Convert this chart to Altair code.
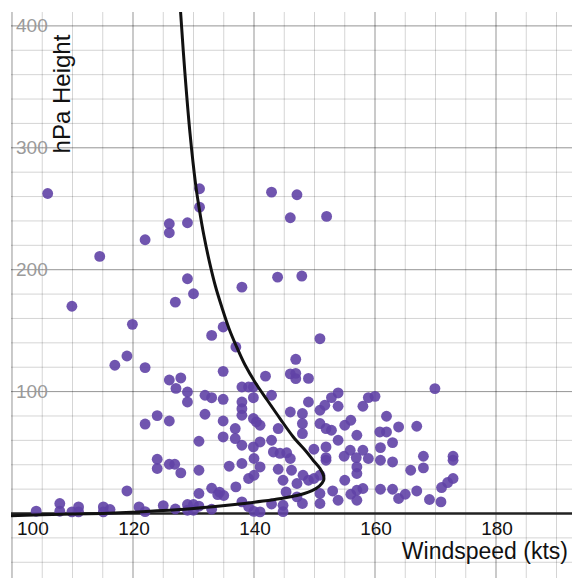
import altair as alt
import pandas as pd

# ---- scatter data (windspeed in kts, height in hPa) ----
KTS = [105.9, 131.0, 131.0, 142.9, 147.1, 146.0, 152.0, 126.0, 129.0, 126.0,
       122.0, 114.5, 129.0, 143.9, 147.9, 138.0, 130.0, 127.0, 109.9, 119.9,
       134.9, 133.0, 150.9, 137.0, 119.0, 146.9, 117.0, 122.0, 134.9, 126.0,
       127.9, 141.9, 146.0, 146.9, 146.9, 149.0, 127.1, 129.0, 129.0, 131.9,
       133.0, 134.9, 138.0, 139.1, 139.9, 138.0, 138.0, 139.9, 142.9, 138.0,
       139.9, 140.4, 141.0, 131.9, 134.9, 124.0, 122.0, 126.0, 136.9, 144.0,
       130.9, 134.9, 136.9, 138.0, 139.9, 141.0, 142.9, 143.2, 144.3, 145.4,
       124.0, 124.0, 126.0, 126.9, 127.9, 130.9, 135.9, 138.0, 140.0, 141.0,
       144.0, 139.1, 140.0, 144.8, 137.0, 119.0, 130.9, 133.0, 134.3, 135.0,
       134.0, 145.3, 146.0, 146.2,
       104.0, 107.9, 107.9, 109.9, 111.0, 111.0, 115.1, 116.2, 115.1, 121.0,
       122.0, 125.0, 127.0, 129.0, 130.0, 129.0, 130.0, 130.9, 133.0, 138.0,
       139.1, 140.0, 141.0, 142.9, 144.8, 144.8,
       169.9, 153.9, 152.8, 151.7, 150.9, 153.9, 149.0, 158.9, 160.0, 158.0,
       148.0, 148.0, 148.0, 146.0, 150.9, 151.9, 152.8, 155.0, 156.0, 153.9,
       157.0, 161.9, 160.8, 161.9, 163.9, 166.9, 162.9, 160.9, 149.9, 151.9,
       151.9, 151.9, 154.9, 155.9, 156.9, 158.0, 158.9, 157.0, 157.0, 160.9,
       162.9, 168.0, 168.0, 165.9, 172.9, 172.9, 172.9, 172.0, 171.0, 155.0,
       149.9, 150.9, 148.1, 149.0, 147.1, 147.1, 148.0, 150.9, 150.9, 153.0,
       153.9, 156.0, 157.0, 158.0, 157.0, 160.9, 162.9, 163.9, 165.0, 166.9,
       169.0, 170.9]
HPA = [262.5, 266.4, 251.3, 263.6, 261.5, 242.6, 243.7, 237.7, 238.5, 230.3,
       224.6, 210.9, 192.6, 193.9, 194.8, 185.7, 180.3, 173.4, 170.0, 155.2,
       153.0, 146.1, 143.4, 136.6, 129.2, 126.5, 121.6, 119.7, 116.6, 109.5,
       111.2, 112.7, 114.5, 115.0, 110.6, 110.8, 102.6, 99.7, 91.5, 97.0,
       95.0, 93.7, 103.8, 103.8, 103.8, 91.5, 86.0, 95.0, 97.0, 80.6,
       77.9, 75.1, 72.4, 81.4, 75.9, 80.3, 73.4, 75.9, 69.7, 69.7,
       59.3, 62.8, 61.5, 56.0, 54.6, 58.7, 60.1, 50.5, 49.4, 49.8,
       44.5, 36.9, 40.4, 40.4, 33.3, 35.5, 38.8, 41.0, 45.1, 38.2,
       36.3, 28.7, 31.4, 27.3, 21.8, 18.5, 16.4, 20.7, 17.5, 14.8,
       15.5, 17.7, 45.1, 35.5,
       1.9, 8.2, 1.9, 1.3, 5.4, 1.3, 5.4, 3.3, 1.3, 5.4,
       1.5, 6.5, 3.7, 7.4, 7.4, 2.7, 2.7, 6.0, 3.5, 9.5,
       5.7, 1.8, 1.3, 7.8, 6.8, 1.5,
       102.5, 98.9, 95.1, 88.8, 84.7, 88.0, 91.5, 95.1, 96.1, 88.0,
       82.0, 73.8, 65.6, 83.3, 73.8, 69.7, 68.3, 72.4, 76.5, 60.1,
       64.2, 79.8, 66.9, 66.9, 71.0, 71.6, 58.2, 54.1, 52.7, 54.6,
       45.9, 43.7, 47.0, 51.9, 45.9, 51.9, 45.1, 38.2, 32.8, 43.7,
       42.3, 47.0, 37.4, 35.5, 47.0, 43.7, 28.7, 25.4, 21.3, 27.3,
       28.7, 31.4, 31.4, 27.3, 24.6, 13.6, 8.2, 16.4, 8.2, 18.5,
       10.9, 15.8, 19.1, 20.5, 10.9, 19.9, 19.9, 12.3, 15.8, 18.5,
       11.5, 9.5]

# ---- fitted curve, traced in order ----
CURVE_KTS = [98.5, 105, 110, 115, 120, 125, 130, 134, 138, 141.5, 144.5, 146.5,
             148.2, 149.6, 150.8, 151.5, 151.5, 150.9, 149.8, 148.7, 146.5, 144.3,
             142.2, 140.2, 138.5, 137.1, 135.85, 134.7, 133.65, 132.7, 131.72, 130.95,
             130.35, 129.42, 128.57, 127.87, 127.55]
CURVE_HPA = [-2.0, -1.1, -0.5, 0.1, 1.1, 2.4, 4.2, 5.9, 8.0, 10.2, 12.4, 14.2,
             16.2, 18.8, 22.5, 27, 31, 37, 43.5, 50.5, 62.8, 77.9,
             92.9, 107.5, 122, 137, 152, 169, 186, 205, 228, 250,
             270, 312, 362, 411, 435]

# ---- axis ticks / grid ----
X_LABELS = [120, 140, 160, 180]
X_FIRST_LABEL = [100]
Y_LABELS = [100, 200, 300, 400]
X_GRID = [100, 105, 110, 115, 120, 125, 130, 135, 140, 145, 150, 155, 160,
          165, 170, 175, 180, 185, 190]
Y_GRID = [-40, -20, 20, 40, 60, 80, 100, 120, 140, 160, 180, 200, 220,
          240, 260, 280, 300, 320, 340, 360, 380, 400]

X_DOMAIN = [99.835, 192.56]
Y_DOMAIN = [-52.9, 411.4]
W, H = 561, 566
FONT = "Liberation Sans"

xs = alt.Scale(domain=X_DOMAIN, nice=False, zero=False)
ys = alt.Scale(domain=Y_DOMAIN, nice=False, zero=False)

# grid lines (Desmos-like: light minor, darker major)
vgrid = alt.Chart(pd.DataFrame({"g": X_GRID})).mark_rule(strokeWidth=1, color="black").encode(
    x=alt.X("g:Q", scale=xs, axis=None),
    strokeOpacity=alt.condition("datum.g % 20 === 0", alt.value(0.42), alt.value(0.17)),
)
hgrid = alt.Chart(pd.DataFrame({"g": Y_GRID})).mark_rule(strokeWidth=1, color="black").encode(
    y=alt.Y("g:Q", scale=ys, axis=None),
    strokeOpacity=alt.condition("datum.g % 100 === 0", alt.value(0.42), alt.value(0.17)),
)

pts = pd.DataFrame({"kts": KTS, "hpa": HPA})
curve = pd.DataFrame({"kts": CURVE_KTS, "hpa": CURVE_HPA,
                      "i": list(range(len(CURVE_KTS)))})

zero_line = alt.Chart(pd.DataFrame({"z": [0]})).mark_rule(
    color="#222222", strokeWidth=2.5).encode(y=alt.Y("z:Q", scale=ys, axis=None))

points = alt.Chart(pts).mark_circle(size=118, color="#6042a6", opacity=0.9).encode(
    x=alt.X("kts:Q", scale=xs, axis=None),
    y=alt.Y("hpa:Q", scale=ys, axis=None),
)

line = alt.Chart(curve).mark_line(color="#111111", strokeWidth=3,
                                  interpolate="catmull-rom", clip=True).encode(
    x=alt.X("kts:Q", scale=xs, axis=None),
    y=alt.Y("hpa:Q", scale=ys, axis=None),
    order=alt.Order("i:Q"),
)

xl = pd.DataFrame({"v": X_LABELS, "z": [0] * len(X_LABELS)})
x_labels = alt.Chart(xl).mark_text(font=FONT, fontSize=19, color="#111111",
                                   baseline="middle", dy=15, dx=1).encode(
    x=alt.X("v:Q", scale=xs, axis=None),
    y=alt.Y("z:Q", scale=ys, axis=None),
    text=alt.Text("v:Q"),
)
xf = pd.DataFrame({"v": X_FIRST_LABEL, "z": [0]})
x_first = alt.Chart(xf).mark_text(font=FONT, fontSize=19, color="#111111",
                                  baseline="middle", align="left", dy=15, dx=5).encode(
    x=alt.X("v:Q", scale=xs, axis=None),
    y=alt.Y("z:Q", scale=ys, axis=None),
    text=alt.Text("v:Q"),
)

yl = pd.DataFrame({"v": Y_LABELS})
y_labels = alt.Chart(yl).mark_text(font=FONT, fontSize=19, color="#9a9a9a",
                                   baseline="middle", align="left").encode(
    x=alt.value(5),
    y=alt.Y("v:Q", scale=ys, axis=None),
    text=alt.Text("v:Q"),
)

x_title = alt.Chart(pd.DataFrame({"t": ["Windspeed (kts)"]})).mark_text(
    font=FONT, fontSize=23, color="#111111", align="right", baseline="alphabetic").encode(
    x=alt.value(557), y=alt.value(547), text="t:N")

y_title = alt.Chart(pd.DataFrame({"t": ["hPa Height"]})).mark_text(
    font=FONT, fontSize=24, color="#111111", align="center", baseline="alphabetic",
    angle=270).encode(
    x=alt.value(59), y=alt.value(82), text="t:N")

chart = alt.layer(vgrid, hgrid, zero_line, points, line, x_labels, x_first, y_labels,
                  x_title, y_title).properties(
    width=W, height=H,
    padding={"left": 3, "top": 4, "right": 0, "bottom": 0},
    autosize=alt.AutoSizeParams(type="none"),
    background="white",
).configure_view(strokeWidth=0)

chart.save("out.html", embed_options={"renderer": "svg", "actions": False})
